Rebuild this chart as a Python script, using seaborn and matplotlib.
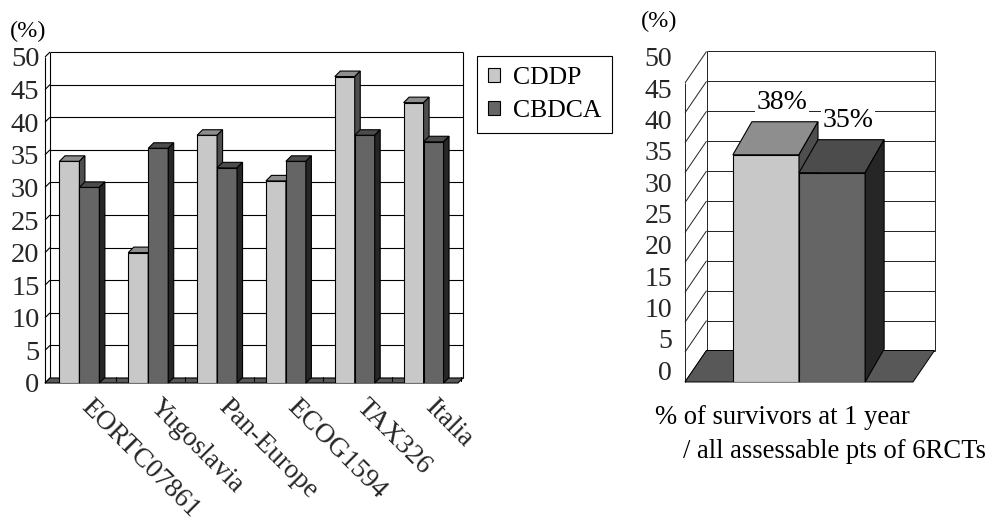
import numpy as np
import pandas as pd
import matplotlib
matplotlib.use("Agg")
import matplotlib.pyplot as plt
from matplotlib.patches import Polygon
import matplotlib.transforms as mtrans
import seaborn as sns

# ---- data -------------------------------------------------------------
trials = ["EORTC07861", "Yugoslavia", "Pan-Europe", "ECOG1594", "TAX326", "Italia"]
cddp = [34, 20, 38, 31, 47, 43]
cbdca = [30, 36, 33, 34, 38, 37]
drugs = ["CDDP", "CBDCA"]
pooled = [38, 35]
pooled_labels = ["38%", "35%"]
y_ticks = list(range(0, 51, 5))
caption = ["% of survivors at 1 year", "/ all assessable pts of 6RCTs"]

# ---- style ------------------------------------------------------------
sns.set_style("white")
plt.rcParams["font.family"] = ["Liberation Serif", "DejaVu Serif"]
plt.rcParams["text.color"] = "black"

front_col = {"CDDP": "#c8c8c8", "CBDCA": "#656565"}
top_col = {"CDDP": "#8e8e8e", "CBDCA": "#4c4c4c"}
side_col = {"CDDP": "#4e4e4e", "CBDCA": "#262626"}
floor_col = "#585858"

W, H = 996, 522
fig = plt.figure(figsize=(W / 100, H / 100), dpi=100)


def px_axes(left, top, right, bottom):
    return fig.add_axes([left / W, 1 - bottom / H, (right - left) / W, (bottom - top) / H])


def px2data(ax, dx, dy):
    pos = ax.get_position()
    x0, x1 = ax.get_xlim()
    y0, y1 = ax.get_ylim()
    return dx * (x1 - x0) / (pos.width * W), dy * (y1 - y0) / (pos.height * H)


def draw_box(ax, xl, xr, dx, dy, lw=0.8, grid_color="black"):
    """Back wall, left wall and floor of a 3-D style column chart."""
    ddx, ddy = px2data(ax, dx, dy)
    kw = dict(color=grid_color, lw=lw, clip_on=False, zorder=0.8, solid_capstyle="butt")
    for v in y_ticks:
        ax.plot([xl + ddx, xr + ddx], [v + ddy, v + ddy], **kw)
        ax.plot([xl, xl + ddx], [v, v + ddy], **kw)
    ax.plot([xl + ddx, xl + ddx], [ddy, 50 + ddy], **kw)
    ax.plot([xr + ddx, xr + ddx], [ddy, 50 + ddy], **kw)
    ax.plot([xl, xl], [0, 50], **kw)
    ax.add_patch(Polygon([(xl, 0), (xr, 0), (xr + ddx, ddy), (xl + ddx, ddy)],
                         closed=True, facecolor=floor_col, edgecolor="black",
                         lw=lw, clip_on=False, zorder=0.9))


def extrude_bars(ax, dx, dy, lw=0.8):
    ddx, ddy = px2data(ax, dx, dy)
    for k, cont in enumerate(ax.containers):
        name = drugs[k]
        for bar in cont:
            z = 3 + k
            bar.set_zorder(z)
            x0, y0 = bar.get_x(), bar.get_y()
            w, h = bar.get_width(), bar.get_height()
            top = [(x0, y0 + h), (x0 + w, y0 + h), (x0 + w + ddx, y0 + h + ddy), (x0 + ddx, y0 + h + ddy)]
            side = [(x0 + w, y0), (x0 + w + ddx, y0 + ddy), (x0 + w + ddx, y0 + h + ddy), (x0 + w, y0 + h)]
            ax.add_patch(Polygon(top, closed=True, facecolor=top_col[name], edgecolor="black",
                                 lw=lw, clip_on=False, zorder=z))
            ax.add_patch(Polygon(side, closed=True, facecolor=side_col[name], edgecolor="black",
                                 lw=lw, clip_on=False, zorder=z))


def strip_axes(ax):
    for s in ax.spines.values():
        s.set_visible(False)
    ax.set_facecolor("none")
    ax.grid(False)


# ---- left panel: per-trial survival ----------------------------------
df = pd.DataFrame({
    "trial": trials * 2,
    "drug": ["CDDP"] * len(trials) + ["CBDCA"] * len(trials),
    "value": cddp + cbdca,
})

axl = px_axes(45, 57, 458, 383)
sns.barplot(data=df, x="trial", y="value", hue="drug", hue_order=drugs, order=trials,
            palette=front_col, saturation=1, width=0.58, edgecolor="black",
            linewidth=0.8, ax=axl)
handles, labels = axl.get_legend_handles_labels()
if axl.get_legend() is not None:
    axl.get_legend().remove()
axl.set_xlim(-0.5, len(trials) - 0.5)
axl.set_ylim(0, 50)
strip_axes(axl)
axl.set_xlabel("")
axl.set_ylabel("")
axl.set_yticks(y_ticks)
axl.set_yticklabels([str(v) for v in y_ticks], fontsize=20.5)
axl.tick_params(axis="y", length=0, pad=4)
axl.tick_params(axis="x", length=0, pad=8)
axl.set_xticks(range(len(trials)))
axl.set_xticklabels(trials, fontsize=19.7, rotation=-45, ha="left", va="top",
                    rotation_mode="anchor")
shift = mtrans.ScaledTranslation(0.14, 0, fig.dpi_scale_trans)
for lab in axl.get_xticklabels():
    lab.set_transform(lab.get_transform() + shift)

draw_box(axl, -0.5, len(trials) - 0.5, 5, 5)
extrude_bars(axl, 5.5, 5.5)

# small category ticks along the floor
tdx, tdy = px2data(axl, 5, 5)
_, tlen = px2data(axl, 0, 4)
for b in np.arange(0.5, len(trials), 1.0):
    axl.plot([b + tdx * 0.5, b + tdx * 0.5], [tdy * 0.5, tdy * 0.5 + tlen],
             color="black", lw=0.8, zorder=2, clip_on=False)

fig.text(10 / W, 1 - 31 / H, "(%)", fontsize=17.5, ha="left", va="center")

fig.legend(handles, labels, loc="upper left", bbox_to_anchor=(477 / W, 1 - 56 / H),
           frameon=True, fancybox=False, edgecolor="black", framealpha=1,
           fontsize=18.5, handlelength=0.47, handleheight=0.47, handletextpad=0.5,
           labelspacing=0.45, borderpad=0.42, borderaxespad=0)
leg = fig.legends[-1]
leg.get_frame().set_linewidth(0.8)

# ---- right panel: pooled survival ------------------------------------
dfp = pd.DataFrame({"group": ["all"] * 2, "drug": drugs, "value": pooled})
axr = px_axes(685, 83, 913, 382)
sns.barplot(data=dfp, x="group", y="value", hue="drug", hue_order=drugs,
            palette=front_col, saturation=1, width=0.58, edgecolor="black",
            linewidth=0.8, ax=axr, legend=False)
axr.set_xlim(-0.5, 0.5)
axr.set_ylim(0, 50)
strip_axes(axr)
axr.set_xlabel("")
axr.set_ylabel("")
axr.set_xticks([])
axr.set_yticks([])

draw_box(axr, -0.5, 0.5, 21.5, 31.5, lw=0.7, grid_color="#222222")
extrude_bars(axr, 19, 33)

for k, cont in enumerate(axr.containers):
    bar = cont[0]
    axr.annotate(pooled_labels[k], (bar.get_x() + bar.get_width() / 2, bar.get_height()),
                 xytext=(16, 52), textcoords="offset pixels", ha="center", va="center",
                 fontsize=20, zorder=6,
                 bbox=dict(boxstyle="square,pad=0.05", facecolor="white", edgecolor="none"))

# tick labels of the right panel sit on their own, slightly wider scale
axt = px_axes(672, 57, 673, 370)
axt.set_ylim(0, 50)
axt.set_yticks(y_ticks)
axt.set_yticklabels([str(v) for v in y_ticks], fontsize=20)
axt.set_xticks([])
axt.tick_params(axis="y", length=0, pad=0)
strip_axes(axt)

fig.text(659 / W, 1 - 21 / H, "(%)", fontsize=17.5, ha="center", va="center")
fig.text(655 / W, 1 - 417 / H, caption[0], fontsize=19.2, ha="left", va="center")
fig.text(683 / W, 1 - 452 / H, caption[1], fontsize=19.2, ha="left", va="center")

fig.savefig("out.png", dpi=100, facecolor="white")
